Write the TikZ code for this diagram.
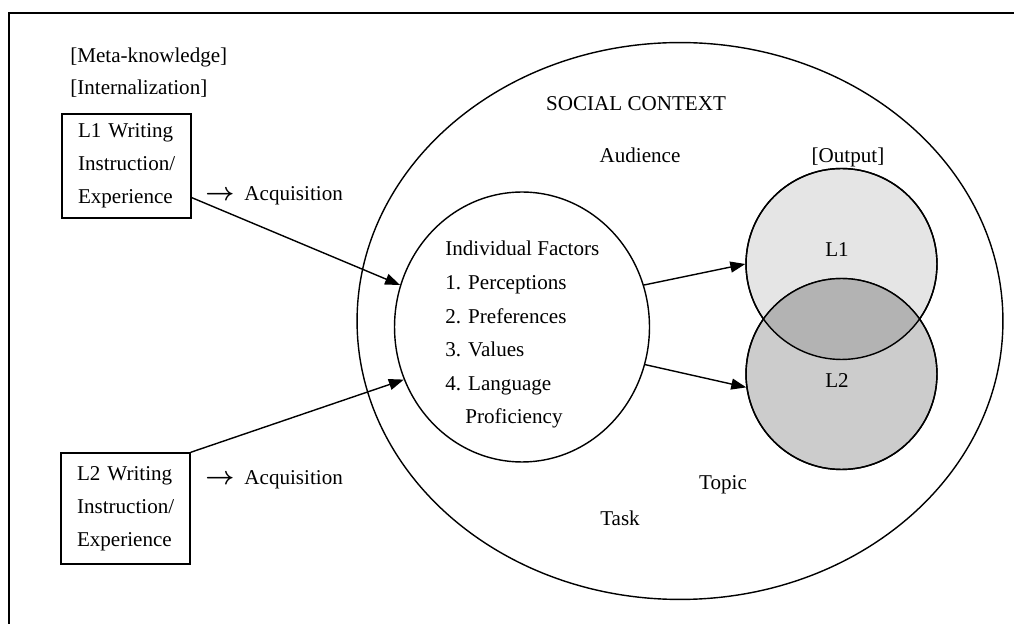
\documentclass[tikz,border=0pt]{standalone}
\usepackage{amsmath}
\usepackage{fontspec}
\setmainfont{Liberation Serif}
\usepackage{xcolor}
\usetikzlibrary{arrows.meta,calc,positioning,shapes.geometric}
\definecolor{outone}{HTML}{E5E5E5}
\definecolor{outtwo}{HTML}{CCCCCC}
\definecolor{outboth}{HTML}{B3B3B3}
\newcommand{\acqarrow}{{\fontsize{15pt}{15pt}\selectfont$\boldsymbol{\rightarrow}$}\hspace{0.2cm}}
\tikzset{
	srcbox/.style={draw, line width=0.8pt, align=left, text width=1.94cm,
			inner xsep=0.32cm, inner ysep=0pt},
	ring/.style={draw, ellipse, line width=0.8pt, inner sep=0pt},
	txt/.style={anchor=base, inner sep=0pt},
	flow/.style={-{Triangle[length=3mm,width=2.2mm]}, line width=0.8pt}
}

\begin{document}
\begin{tikzpicture}[x=0.02cm, y=-0.02cm, font=\fontsize{12pt}{18.8pt}\selectfont]
			\useasboundingbox (0,0) rectangle (1014,624);
			% Frame
			\draw[line width=1.1pt] (1014,13) -| (9,624);

			% Input side
			\node[txt, anchor=base west] (meta) at (70,63) {[Meta-knowledge]};
			\node[txt, anchor=base west] (intern) at (70,95) {[Internalization]};
			\node[srcbox, minimum height=2.08cm] (l1box) at (126.5,166) {L1 Writing\\Instruction/\\Experience};
			\node[srcbox, minimum height=2.22cm] (l2box) at (125.5,508.5) {L2 Writing\\Instruction/\\Experience};
			\node[txt, anchor=base west] (acq1) at (205,201) {\acqarrow Acquisition};
			\node[txt, anchor=base west] (acq2) at (205,485) {\acqarrow Acquisition};

			% Social context and individual factors
			\node[ring, minimum width=12.92cm, minimum height=11.14cm] (social) at (680,321) {};
			\node[txt] (soctxt) at (636,111) {SOCIAL CONTEXT};
			\node[txt] (aud) at (640,163) {Audience};
			\node[txt] (topic) at (723,490) {Topic};
			\node[txt] (task) at (620,525) {Task};
			\node[ring, minimum width=5.1cm, minimum height=5.4cm] (indiv) at (522,327) {};
			\node[anchor=north west, inner sep=0pt, align=left,
				font=\fontsize{12pt}{19.1pt}\selectfont] (factors) at (445,241)
				{Individual Factors\\1. Perceptions\\2. Preferences\\3. Values\\4. Language\\\hspace*{0.4cm}Proficiency};

			% Output
			\node[txt] (outtxt) at (848,163) {[Output]};
			\node[ring, fill=outone, minimum size=3.82cm] (out1) at (841.5,264) {};
			\node[ring, fill=outtwo, minimum size=3.82cm] (out2) at (841.5,374) {};
			\begin{scope}
				\clip (out1.center) circle[radius=1.91cm];
				\fill[outboth] (out2.center) circle[radius=1.91cm];
			\end{scope}
			\draw[line width=0.8pt] (out1.center) circle[radius=1.91cm];
			\draw[line width=0.8pt] (out2.center) circle[radius=1.91cm];
			\node[txt] (l1txt) at (837,257) {L1};
			\node[txt] (l2txt) at (837,388) {L2};

			% Arrows
			\draw[flow] ($(l1box.south east)!0.2!(l1box.north east)$) -- (indiv.161);
			\draw[flow] (l2box.north east) -- (indiv.204);
			\draw[flow] (indiv.19) -- (out1.180);
			\draw[flow] (indiv.343) -- (out2.188);
		\end{tikzpicture}
\end{document}
